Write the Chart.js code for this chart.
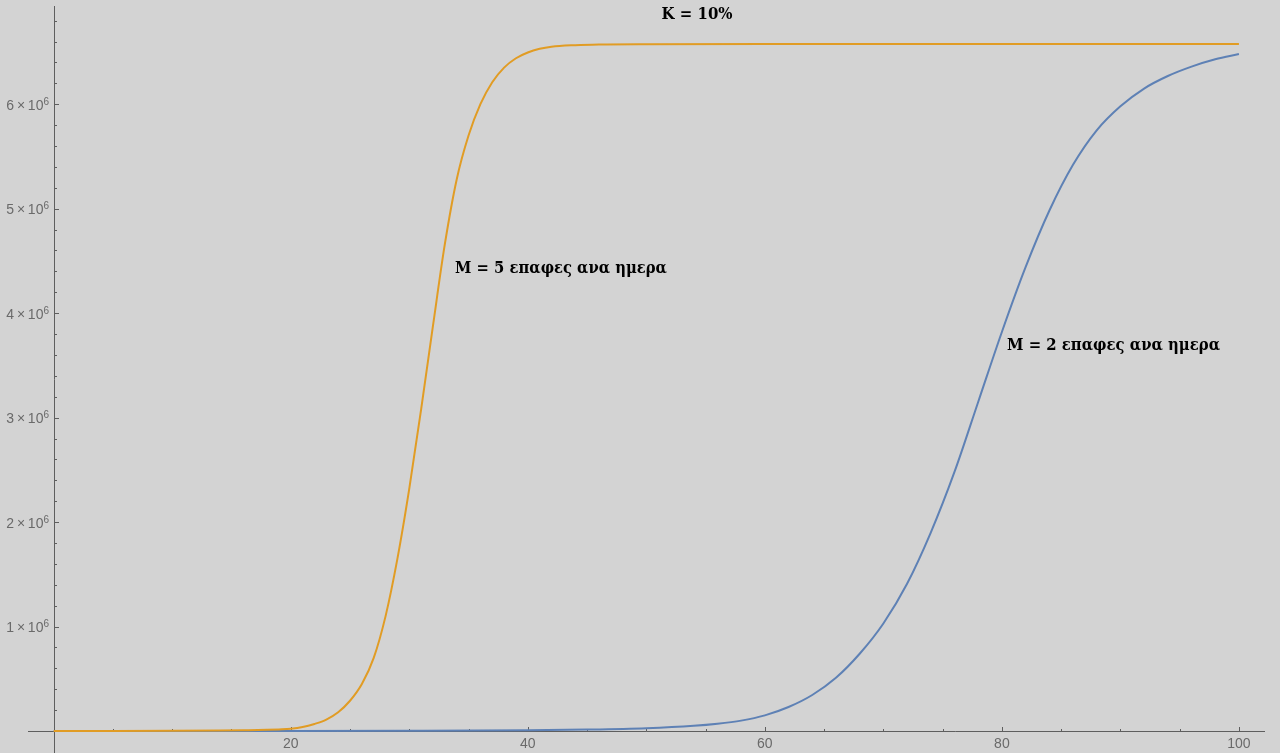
<!DOCTYPE html>
<html>
<head>
<meta charset="utf-8">
<script src="https://cdn.jsdelivr.net/npm/chart.js@4/dist/chart.umd.min.js"></script>
<style>
  html, body { margin: 0; padding: 0; background: #d3d3d3; overflow: hidden; }
  #wrap { width: 1280px; height: 753px; position: relative; }
</style>
</head>
<body>
<div id="wrap"><canvas id="c"></canvas></div>
<script>
// ---------- data (values in millions of people) ----------
const chartTitle = 'K = 10%';
const seriesNames = ['M = 5 επαφες ανα ημερα', 'M = 2 επαφες ανα ημερα'];

const orangeDays   = [0, 5, 10, 14, 16, 18, 19, 20, 21, 22, 23, 24, 25, 26, 27, 28, 29, 30, 31, 32, 33, 34, 35, 36, 37, 38, 39, 40, 41, 42, 44, 46, 50, 60, 100];
const orangeValues = [0, 0.0005, 0.002, 0.005, 0.008, 0.012, 0.016, 0.022, 0.038, 0.068, 0.11, 0.18, 0.29, 0.45, 0.70, 1.10, 1.65, 2.32, 3.08, 3.88, 4.66, 5.28, 5.70, 6.00, 6.21, 6.35, 6.44, 6.495, 6.53, 6.55, 6.565, 6.572, 6.575, 6.576, 6.576];

const blueDays   = [0, 20, 30, 40, 45, 50, 54, 56, 58, 60, 62, 64, 66, 68, 70, 72, 74, 76, 78, 80, 82, 84, 86, 88, 90, 92, 94, 96, 98, 100];
const blueValues = [0, 0.001, 0.003, 0.008, 0.014, 0.027, 0.05, 0.07, 0.10, 0.15, 0.23, 0.345, 0.51, 0.74, 1.03, 1.41, 1.90, 2.48, 3.15, 3.82, 4.44, 4.98, 5.42, 5.75, 5.98, 6.15, 6.27, 6.36, 6.43, 6.48];

const xMajorTicks = [20, 40, 60, 80, 100];
const yMajorTicks = [1, 2, 3, 4, 5, 6];   // × 10^6
const UNIT = 1e6;

// ---------- build ----------
const toPoints = (xs, ys) => xs.map((d, i) => ({ x: d, y: ys[i] * UNIT }));

const ORANGE = '#e19c24';
const BLUE = '#5e81b5';
const AXIS = '#5e5e5e';
const LABEL = '#6a6a6a';
const TICK_FONT = '"Liberation Sans Narrow", "Liberation Sans", Arial, sans-serif';
const NOTE_FONT = '"DejaVu Serif Condensed", "DejaVu Serif", "Liberation Serif", serif';

// annotation anchors in data coordinates; width = target text width
const annotations = [
  { text: chartTitle,     x: 54.28, y: 6.816e6, align: 'center', width: 71 },
  { text: seriesNames[0], x: 33.86, y: 4.382e6, align: 'left',   width: 212 },
  { text: seriesNames[1], x: 80.44, y: 3.648e6, align: 'left',   width: 213 }
];

const axesPlugin = {
  id: 'mmaAxes',
  beforeDraw(chart) {
    const { ctx, width, height } = chart;
    ctx.save();
    ctx.fillStyle = '#d3d3d3';
    ctx.fillRect(0, 0, width, height);
    ctx.restore();
  },
  beforeDatasetsDraw(chart) {
    const { ctx, chartArea: a, scales: { x, y } } = chart;
    const x0 = Math.round(x.getPixelForValue(0)) + 0.5;
    const y0 = Math.round(y.getPixelForValue(0)) + 0.5;
    ctx.save();
    ctx.strokeStyle = AXIS;
    ctx.lineWidth = 1;
    ctx.beginPath();
    ctx.moveTo(a.left, y0); ctx.lineTo(a.right, y0);
    ctx.moveTo(x0, a.top); ctx.lineTo(x0, a.bottom);
    for (let t = 5; t <= 100; t += 5) {
      const px = Math.round(x.getPixelForValue(t)) + 0.5;
      const len = xMajorTicks.includes(t) ? 4.5 : 2.5;
      ctx.moveTo(px, y0); ctx.lineTo(px, y0 - len);
    }
    for (let k = 1; k <= 34; k++) {
      const v = k * 0.2;
      const py = Math.round(y.getPixelForValue(v * UNIT)) + 0.5;
      const major = Math.abs(v - Math.round(v)) < 1e-6;
      const len = major ? 4.5 : 2.5;
      ctx.moveTo(x0, py); ctx.lineTo(x0 + len, py);
    }
    ctx.stroke();

    ctx.fillStyle = LABEL;
    ctx.font = '14px ' + TICK_FONT;
    ctx.textAlign = 'center';
    ctx.textBaseline = 'alphabetic';
    xMajorTicks.forEach(t => {
      ctx.fillText(String(t), x.getPixelForValue(t), y0 + 16);
    });

    const right = x0 - 5.5;
    yMajorTicks.forEach(v => {
      const py = y.getPixelForValue(v * UNIT);
      ctx.font = '10px ' + TICK_FONT;
      ctx.textAlign = 'right';
      ctx.fillText('6', right, py + 0.5);
      const supW = ctx.measureText('6').width;
      ctx.font = '14px ' + TICK_FONT;
      ctx.fillText(v + '\u2009×\u200910', right - supW, py + 5.5);
    });
    ctx.restore();
  },
  afterDatasetsDraw(chart) {
    const { ctx, scales: { x, y } } = chart;
    ctx.save();
    ctx.fillStyle = '#000000';
    ctx.textBaseline = 'alphabetic';
    try { ctx.fontStretch = 'condensed'; } catch (e) {}
    annotations.forEach(an => {
      ctx.font = 'bold 20px ' + NOTE_FONT;
      const w = ctx.measureText(an.text).width;
      const size = 20 * an.width / w;
      ctx.font = 'bold ' + size.toFixed(2) + 'px ' + NOTE_FONT;
      ctx.textAlign = an.align;
      ctx.fillText(an.text, x.getPixelForValue(an.x), y.getPixelForValue(an.y));
    });
    ctx.restore();
  }
};

new Chart(document.getElementById('c'), {
  type: 'line',
  data: {
    datasets: [
      {
        label: seriesNames[0],
        data: toPoints(orangeDays, orangeValues),
        borderColor: ORANGE,
        borderWidth: 2,
        pointRadius: 0,
        fill: false,
        cubicInterpolationMode: 'monotone',
        order: 0
      },
      {
        label: seriesNames[1],
        data: toPoints(blueDays, blueValues),
        borderColor: BLUE,
        borderWidth: 2,
        pointRadius: 0,
        fill: false,
        cubicInterpolationMode: 'monotone',
        order: 1
      }
    ]
  },
  options: {
    responsive: true,
    maintainAspectRatio: false,
    animation: false,
    devicePixelRatio: 1,
    layout: { padding: { left: 28, right: 15, top: 6, bottom: 0 } },
    plugins: { legend: { display: false }, tooltip: { enabled: false }, title: { display: false } },
    scales: {
      x: { type: 'linear', min: -2.17, max: 102.2, display: false },
      y: { type: 'linear', min: -0.21e6, max: 6.94e6, display: false }
    }
  },
  plugins: [axesPlugin]
});
</script>
</body>
</html>
